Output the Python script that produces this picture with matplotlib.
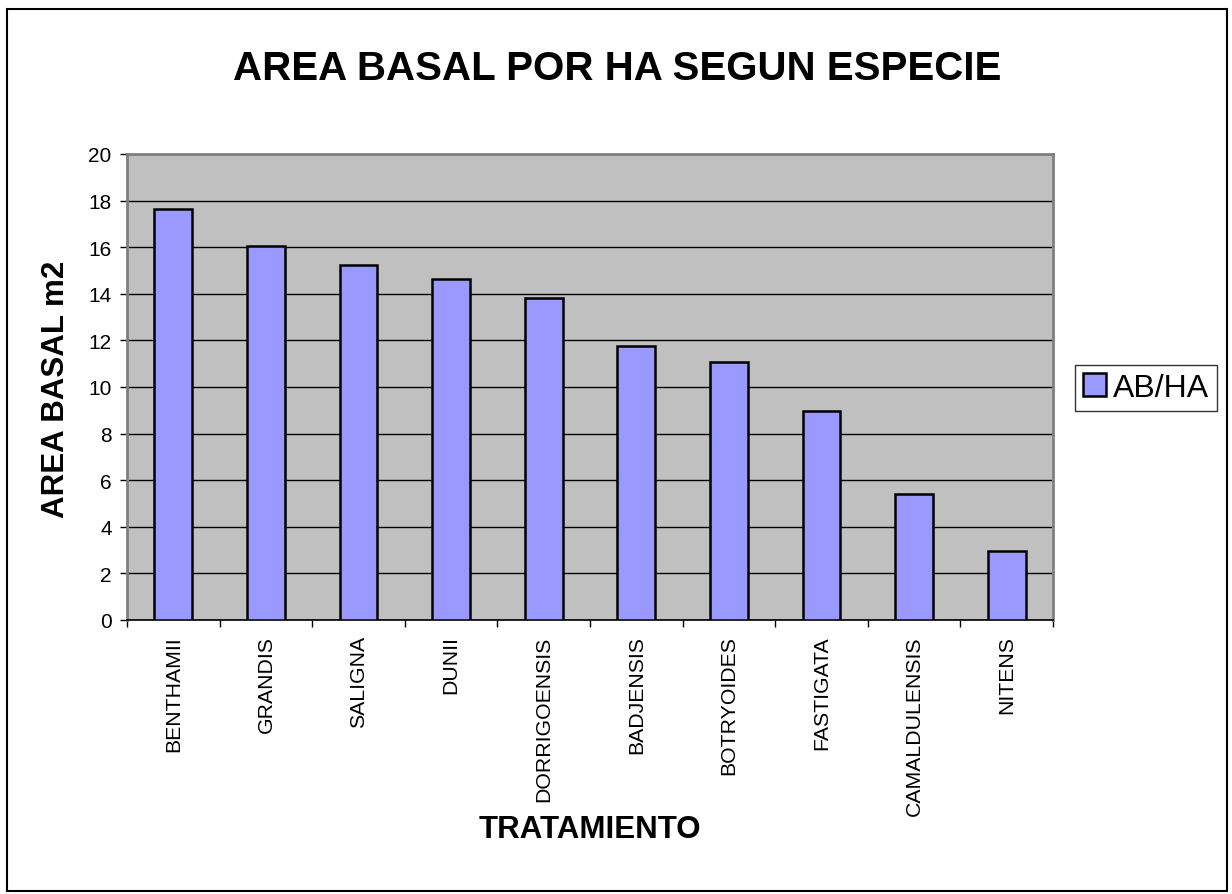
import matplotlib
matplotlib.use("Agg")
import matplotlib.pyplot as plt
from matplotlib.patches import Rectangle

plt.rcParams['font.family'] = ['Liberation Sans', 'DejaVu Sans']

categories = ["BENTHAMII", "GRANDIS", "SALIGNA", "DUNII", "DORRIGOENSIS",
              "BADJENSIS", "BOTRYOIDES", "FASTIGATA", "CAMALDULENSIS", "NITENS"]
values = [17.64, 16.06, 15.24, 14.65, 13.82, 11.76, 11.09, 8.96, 5.41, 2.95]
y_ticks = [0, 2, 4, 6, 8, 10, 12, 14, 16, 18, 20]
series_name = "AB/HA"
title = "AREA BASAL POR HA SEGUN ESPECIE"
xlabel = "TRATAMIENTO"
ylabel = "AREA BASAL m2"

W, H = 1232, 895
fig = plt.figure(figsize=(W / 100, H / 100), dpi=100)
fig.patch.set_facecolor("white")

# outer chart border
fig.patches.append(Rectangle((7 / W, 1 - 892 / H), (1227 - 7) / W, (892 - 10) / H,
                             transform=fig.transFigure, fill=False,
                             edgecolor="black", linewidth=1.5, zorder=0))

ax = fig.add_axes([127 / W, 1 - 621 / H, (1053 - 127) / W, (621 - 155) / H])
ax.set_facecolor("#C0C0C0")

x = list(range(len(categories)))
bars = ax.bar(x, values, width=0.41, color="#9999FF", edgecolor="black",
              linewidth=1.8, zorder=3, label=series_name)

ax.set_xlim(-0.5, len(categories) - 0.5)
ax.set_ylim(0, 20)
ax.set_yticks(y_ticks)
ax.set_yticklabels([str(v) for v in y_ticks], fontsize=15)
ax.yaxis.grid(True, color="black", linewidth=1.0, zorder=1)
ax.set_axisbelow(True)

# category labels at centers, tick marks at boundaries
ax.set_xticks(x)
ax.set_xticklabels(categories, rotation=90, fontsize=15.3, va="top", ha="center")
ax.tick_params(axis="x", which="major", length=0, pad=11)
ax.set_xticks([i - 0.5 for i in range(len(categories) + 1)], minor=True)
ax.tick_params(axis="x", which="minor", length=5, width=1, color="black", direction="out")
ax.tick_params(axis="y", length=5, width=1, color="black", direction="out", pad=6)

for side in ["top", "right"]:
    ax.spines[side].set_color("#808080")
    ax.spines[side].set_linewidth(2)
ax.spines["left"].set_color("#808080")
ax.spines["left"].set_linewidth(2)
ax.spines["bottom"].set_color("black")
ax.spines["bottom"].set_linewidth(1.2)

fig.text(617 / W, 1 - 80 / H, title, fontsize=29, fontweight="bold",
         ha="center", va="baseline")
fig.text(590 / W, 1 - 838 / H, xlabel, fontsize=22.5, fontweight="bold",
         ha="center", va="baseline")
fig.text(64 / W, 1 - 389.5 / H, ylabel, fontsize=22.5, fontweight="bold",
         ha="center", va="baseline", rotation=90, rotation_mode="anchor")

leg = fig.legend(handles=[bars], labels=[series_name], loc="center left",
                 bbox_to_anchor=(1075 / W, 1 - 389 / H), fontsize=23,
                 frameon=True, fancybox=False, handlelength=0.72,
                 handleheight=0.72, handletextpad=0.22, borderpad=0.25,
                 borderaxespad=0)
leg.get_frame().set_edgecolor("black")
leg.get_frame().set_linewidth(1.0)

fig.savefig("out.png", dpi=100)
